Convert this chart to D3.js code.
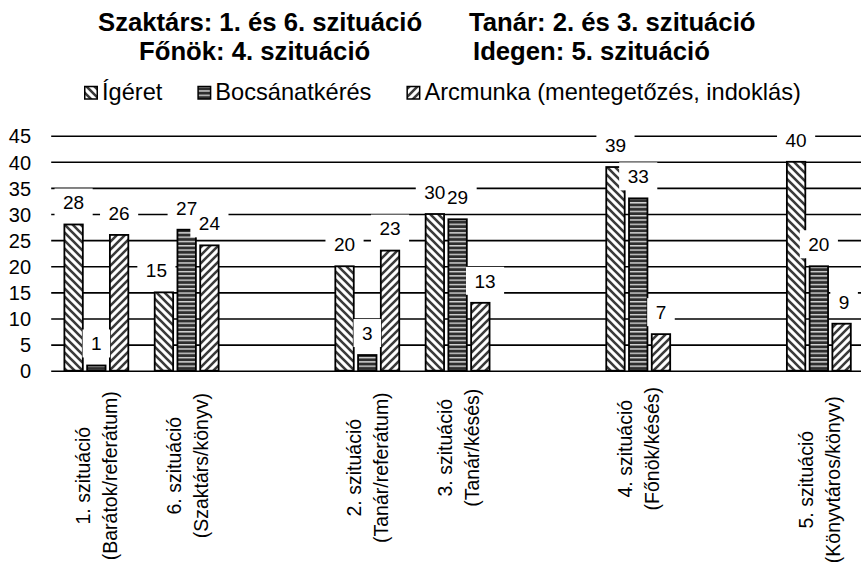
<!DOCTYPE html>
<html>
<head>
<meta charset="utf-8">
<script src="https://cdn.jsdelivr.net/npm/d3@7"></script>
<style>
  html, body { margin: 0; padding: 0; background: #fff; }
  svg { display: block; font-family: "Liberation Sans", Arial, sans-serif; }
</style>
</head>
<body>
<div id="chart"></div>
<script>
// ---------- data ----------
const titleLine1 = ["Szaktárs: 1. és 6. szituáció", "Tanár: 2. és 3. szituáció"];
const titleLine2 = ["Főnök: 4. szituáció", "Idegen: 5. szituáció"];
const seriesNames = ["Ígéret", "Bocsánatkérés", "Arcmunka (mentegetőzés, indoklás)"];
// 9 category slots (empty slots are the gaps in the original)
const catLine1 = ["1. szituáció", "6. szituáció", "", "2. szituáció", "3. szituáció", "", "4. szituáció", "", "5. szituáció"];
const catLine2 = ["(Barátok/referátum)", "(Szaktárs/könyv)", "", "(Tanár/referátum)", "(Tanár/késés)", "", "(Főnök/késés)", "", "(Könyvtáros/könyv)"];
const igeret    = [28, 15, null, 20, 30, null, 39, null, 40];
const bocsanat  = [ 1, 27, null,  3, 29, null, 33, null, 20];
const arcmunka  = [26, 24, null, 23, 13, null,  7, null,  9];
const yTicks = [0, 5, 10, 15, 20, 25, 30, 35, 40, 45];

// ---------- layout (not data) ----------
const W = 861, H = 565;
const plotLeft = 51.2, plotRight = 864, yBottom = 370.7, yTop = 135.7;
const xLabelCenterBelowAxis = [105, 95, 0, 97, 77, 0, 78, 0, 109];
const labelNudge = { "0-1": -7.5, "2-4": 4.7, "2-8": 2.5 };

const svg = d3.select("#chart").append("svg").attr("width", W).attr("height", H);
const defs = svg.append("defs");

// patterns
function diagPattern(id, dir) {
  const p = defs.append("pattern").attr("id", id).attr("patternUnits", "userSpaceOnUse")
    .attr("width", 8).attr("height", 8);
  p.append("rect").attr("width", 8).attr("height", 8).attr("fill", "#ffffff");
  const d = dir === "down"
    ? "M-2,-2 L10,10 M-2,6 L2,10 M6,-2 L10,2"
    : "M-2,10 L10,-2 M-2,2 L2,-2 M6,10 L10,6";
  p.append("path").attr("d", d).attr("stroke", "#3a3a3a").attr("stroke-width", 2.6);
}
diagPattern("pat0", "down");
(function () {
  const p = defs.append("pattern").attr("id", "pat1").attr("patternUnits", "userSpaceOnUse")
    .attr("width", 8).attr("height", 4.3);
  p.append("rect").attr("width", 8).attr("height", 4.3).attr("fill", "#d6d6d6");
  p.append("rect").attr("y", 1.4).attr("width", 8).attr("height", 2.9).attr("fill", "#2e2e2e");
})();
diagPattern("pat2", "up");
const fills = ["url(#pat0)", "url(#pat1)", "url(#pat2)"];

// scales
const y = d3.scaleLinear().domain([0, 45]).range([yBottom, yTop]);
const x0 = d3.scaleBand().domain(d3.range(catLine1.length)).range([plotLeft, plotRight]).padding(0);
const x1 = d3.scaleBand().domain([0, 1, 2]).range([0, x0.bandwidth()]).paddingInner(0.19).paddingOuter(0.58);

// title
const title = svg.append("g").attr("font-weight", "bold").attr("font-size", 25.7).attr("fill", "#000");
title.append("text").attr("x", 98).attr("y", 31).text(titleLine1[0]);
title.append("text").attr("x", 469).attr("y", 31).text(titleLine1[1]);
title.append("text").attr("x", 139).attr("y", 60).text(titleLine2[0]);
title.append("text").attr("x", 473).attr("y", 60).text(titleLine2[1]);

// legend
const legend = svg.append("g").attr("font-size", 23.6);
let lx = 84;
seriesNames.forEach((name, i) => {
  legend.append("rect").attr("x", lx + 0.75).attr("y", 86.5).attr("width", 12.5).attr("height", 12.5)
    .attr("fill", fills[i]).attr("stroke", "#000").attr("stroke-width", 1.5);
  const t = legend.append("text").attr("x", lx + 18).attr("y", 99.5).text(name);
  lx += 18 + t.node().getComputedTextLength() + 35;
});

// gridlines + y tick labels
const yAxis = d3.axisLeft(y).tickValues(yTicks).tickSize(-(plotRight - plotLeft)).tickPadding(20);
const ga = svg.append("g").attr("transform", `translate(${plotLeft},0)`).call(yAxis);
ga.select(".domain").remove();
ga.selectAll(".tick line").attr("stroke", "#000").attr("stroke-width", 1.6);
ga.selectAll(".tick text").attr("font-size", 20).attr("fill", "#000")
  .attr("font-family", "'Liberation Sans', Arial, sans-serif").attr("x", 31 - plotLeft).attr("dy", "0.36em");

// bars
const seriesVals = [igeret, bocsanat, arcmunka];
const barsG = svg.append("g");
seriesVals.forEach((vals, s) => {
  barsG.selectAll(null).data(vals.map((v, c) => ({ v, c })).filter(d => d.v !== null))
    .enter().append("rect")
    .attr("x", d => x0(d.c) + x1(s))
    .attr("y", d => y(d.v))
    .attr("width", x1.bandwidth())
    .attr("height", d => y(0) - y(d.v))
    .attr("fill", fills[s]).attr("stroke", "#000").attr("stroke-width", 1.8);
});

// data labels with white background (all boxes first, then all texts)
const boxG = svg.append("g");
const labG = svg.append("g").attr("font-size", 19);
seriesVals.forEach((vals, s) => {
  vals.forEach((v, c) => {
    if (v === null) return;
    const cx = x0(c) + x1(s) + x1.bandwidth() / 2 + (labelNudge[s + "-" + c] || 0);
    const cy = y(v) - 22;
    const t = labG.append("text").attr("x", cx).attr("y", cy).attr("dy", "0.36em")
      .attr("text-anchor", "middle").text(v);
    const w = t.node().getComputedTextLength() + 17;
    boxG.append("rect").attr("fill", "#fff")
      .attr("x", cx - w / 2).attr("y", cy - 14).attr("width", w).attr("height", 28);
  });
});

// x category labels (rotated, two lines, centered)
const xl = svg.append("g").attr("font-size", 19.5);
catLine1.forEach((l1, c) => {
  if (!l1) return;
  const cx = x0(c) + x0.bandwidth() / 2;
  const cy = yBottom + xLabelCenterBelowAxis[c];
  const t = xl.append("text").attr("transform", `translate(${cx},${cy}) rotate(-90)`)
    .attr("text-anchor", "middle");
  t.append("tspan").attr("x", 0).attr("y", -6).text(l1);
  t.append("tspan").attr("x", 0).attr("y", 21).text(catLine2[c]);
});
</script>
</body>
</html>
